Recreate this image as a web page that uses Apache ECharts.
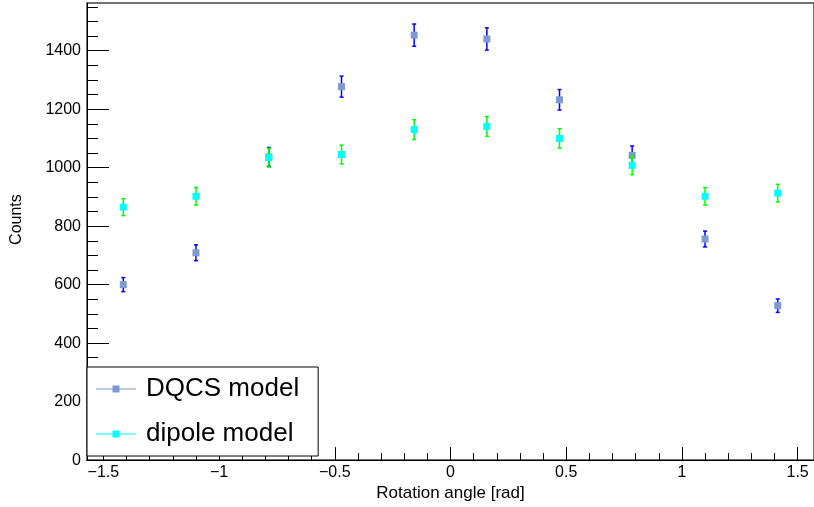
<!DOCTYPE html>
<html>
<head>
<meta charset="utf-8">
<script src="https://cdn.jsdelivr.net/npm/echarts@6/dist/echarts.min.js"></script>
<style>
  html, body { margin: 0; padding: 0; background: #fff; }
  #chart { width: 814px; height: 507px; }
</style>
</head>
<body>
<div id="chart"></div>
<script>
// bin centres of the rotation angle histogram [rad]
let angles = [-1.414, -1.100, -0.785, -0.471, -0.157, 0.157, 0.471, 0.785, 1.100, 1.414]

let dqcsCounts = [600, 709, 1037, 1277, 1453, 1440, 1232, 1042, 756, 528]
let dqcsErrors = [24, 27, 32, 36, 38, 38, 35, 32, 27, 23]

let dipoleCounts = [865, 902, 1034, 1045, 1130, 1141, 1100, 1008, 902, 913]
let dipoleErrors = [29, 30, 32, 32, 34, 34, 33, 32, 30, 30]

let xMajorTicks = [-1.5, -1, -0.5, 0, 0.5, 1, 1.5]
let xMinorTicks = [-1.4, -1.3, -1.2, -1.1, -0.9, -0.8, -0.7, -0.6, -0.4, -0.3, -0.2, -0.1,
    0.1, 0.2, 0.3, 0.4, 0.6, 0.7, 0.8, 0.9, 1.1, 1.2, 1.3, 1.4]
let yMajorTicks = [0, 200, 400, 600, 800, 1000, 1200, 1400]
let yMinorTicks = [50, 100, 150, 250, 300, 350, 450, 500, 550, 650, 700, 750, 850, 900, 950,
    1050, 1100, 1150, 1250, 1300, 1350, 1450, 1500, 1550]

let xMin = -Math.PI / 2
let xMax = Math.PI / 2
let yMax = 1563

let fontName = 'Liberation Sans, Arial, sans-serif'

function minusSign(v) {
    return String(v).replace('-', '\u2212')
}

function errorBarSeries(name, counts, errors, markerColor, barColor) {
    let rows = angles.map((a, i) => [a, counts[i], errors[i]])
    return {
        name,
        type: 'custom',
        xAxisIndex: 0,
        yAxisIndex: 0,
        data: rows,
        encode: { x: 0, y: 1 },
        itemStyle: { color: markerColor },
        renderItem(params, api) {
            let x = api.value(0)
            let y = api.value(1)
            let e = api.value(2)
            let p = api.coord([x, y])
            let top = api.coord([x, y + e])
            let bottom = api.coord([x, y - e])
            let bar = { stroke: barColor, lineWidth: 1.5 }
            return {
                type: 'group',
                children: [
                    { type: 'line', shape: { x1: p[0], y1: top[1], x2: p[0], y2: bottom[1] }, style: bar },
                    { type: 'line', shape: { x1: p[0] - 2, y1: top[1], x2: p[0] + 2, y2: top[1] }, style: bar },
                    { type: 'line', shape: { x1: p[0] - 2, y1: bottom[1], x2: p[0] + 2, y2: bottom[1] }, style: bar },
                    { type: 'rect', shape: { x: p[0] - 3.5, y: p[1] - 3.5, width: 7, height: 7 }, style: { fill: markerColor } },
                ],
            }
        },
    }
}

let getchart = echarts.init(document.getElementById('chart'))
let option = {
    animation: false,
    backgroundColor: '#fff',
    textStyle: { fontFamily: fontName },
    grid: {
        left: 87,
        top: 3,
        width: 729,
        height: 460,
        show: true,
        borderColor: '#444',
        borderWidth: 1.5,
    },
    legend: {
        orient: 'vertical',
        left: 87,
        top: 367,
        padding: [9, 19, 9, 9],
        itemGap: 19,
        itemWidth: 45,
        itemHeight: 8,
        backgroundColor: '#fff',
        borderColor: '#000',
        borderWidth: 1,
        icon: 'path://M0,0 M0,3.4 L40,3.4 L40,4.6 L0,4.6 Z M16.5,0.5 L23.5,0.5 L23.5,7.5 L16.5,7.5 Z M45,8',
        itemStyle: { borderWidth: 0 },
        textStyle: { fontSize: 26, color: '#000', fontFamily: fontName },
        data: ['DQCS model', 'dipole model'],
    },
    xAxis: [
        {
            type: 'value',
            position: 'bottom',
            min: xMin,
            max: xMax,
            name: 'Rotation angle [rad]',
            nameLocation: 'middle',
            nameGap: 18,
            nameTextStyle: { fontSize: 17, color: '#000', fontFamily: fontName },
            axisLine: { onZero: false, lineStyle: { color: '#000', width: 1 } },
            axisTick: { inside: true, length: 13, customValues: xMajorTicks, lineStyle: { color: '#000' } },
            axisLabel: {
                customValues: xMajorTicks,
                margin: 4,
                fontSize: 16,
                color: '#000',
                formatter: minusSign,
            },
            splitLine: { show: false },
        },
        {
            type: 'value',
            position: 'bottom',
            min: xMin,
            max: xMax,
            axisLine: { show: false, onZero: false },
            axisTick: { inside: true, length: 7, customValues: xMinorTicks, lineStyle: { color: '#000' } },
            axisLabel: { show: false },
            splitLine: { show: false },
        },
    ],
    yAxis: [
        {
            type: 'value',
            position: 'left',
            min: 0,
            max: yMax,
            name: 'Counts',
            nameLocation: 'middle',
            nameGap: 62,
            nameTextStyle: { fontSize: 16, color: '#000', fontFamily: fontName, padding: [0, 0, 0, 24] },
            axisLine: { show: true, onZero: false, lineStyle: { color: '#000', width: 1 } },
            axisTick: { show: true, inside: true, length: 22, customValues: yMajorTicks, lineStyle: { color: '#000' } },
            axisLabel: {
                customValues: yMajorTicks,
                margin: 6,
                fontSize: 16,
                color: '#000',
                formatter: (v) => String(v),
            },
            splitLine: { show: false },
        },
        {
            type: 'value',
            position: 'left',
            min: 0,
            max: yMax,
            axisLine: { show: false, onZero: false },
            axisTick: { show: true, inside: true, length: 11, customValues: yMinorTicks, lineStyle: { color: '#000' } },
            axisLabel: { show: false },
            splitLine: { show: false },
        },
    ],
    series: [
        errorBarSeries('DQCS model', dqcsCounts, dqcsErrors, '#7f99d2', '#0000ff'),
        errorBarSeries('dipole model', dipoleCounts, dipoleErrors, '#00ffff', '#00ff00'),
    ],
}

getchart.setOption(option)
window.addEventListener('resize', () => {
    getchart.resize()
})
</script>
</body>
</html>
